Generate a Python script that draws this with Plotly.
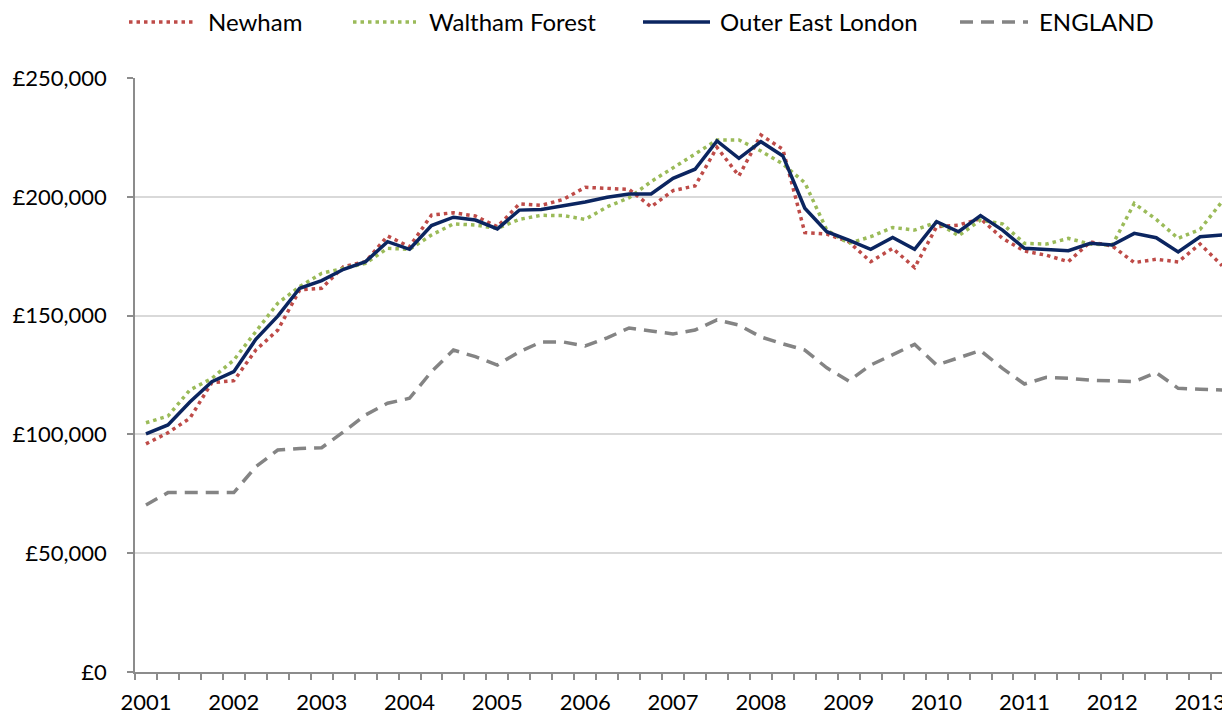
import plotly.graph_objects as go

# Quarterly average house prices, 2001 Q1 - 2013 Q2
years = [str(y) for y in range(2001, 2014)]
quarters = list(range(50))

newham = [96000, 100700, 106800, 121800, 122600, 135500, 143900, 160800, 161500, 170600,
          172700, 183500, 179000, 192300, 193300, 191900, 187400, 197000, 196400, 198900,
          204000, 203400, 203100, 195800, 202600, 204600, 220800, 208800, 226000, 220000,
          184900, 184300, 181100, 172700, 178300, 170200, 187400, 188100, 190800, 182500,
          177200, 175400, 172700, 181000, 179300, 172300, 173700, 172600, 180100, 171000]

waltham_forest = [104900, 107700, 118700, 123600, 131300, 143200, 155200, 162200, 167800, 169900,
                  172000, 178300, 177900, 183900, 188600, 188100, 186700, 190500, 192200, 192100,
                  190500, 195800, 199600, 206400, 212000, 218000, 223900, 223900, 219300, 213800,
                  205900, 186000, 180400, 183200, 187100, 186000, 189300, 183600, 190200, 188600,
                  180400, 180100, 182500, 180100, 179700, 197200, 190500, 182500, 186300, 198000]

outer_east = [100200, 104000, 113600, 122200, 126400, 140000, 149800, 161500, 164700, 169500,
              172700, 181100, 177900, 187900, 191400, 190200, 186500, 194400, 194700, 196100,
              197800, 199800, 201200, 201200, 207800, 211600, 223500, 216200, 223200, 217200,
              195200, 185300, 181800, 177900, 182900, 177900, 189500, 185300, 192100, 186000,
              178300, 177800, 177300, 180400, 179700, 184600, 182800, 176800, 183200, 183900]

england = [70300, 75500, 75500, 75500, 75500, 86400, 93400, 94100, 94400, 101100,
           108200, 113100, 115200, 126400, 135500, 132700, 129200, 134800, 138900, 138900,
           137200, 140600, 144800, 143500, 142300, 143900, 148200, 146000, 141000, 138100,
           135500, 128000, 122500, 129200, 133600, 137900, 129200, 132400, 135300, 127800,
           121200, 124000, 123600, 122800, 122500, 122200, 126000, 119400, 119000, 118700]

series = [
    ("Newham", newham, "#BE4B48", 3.5, "3.5px,4px"),
    ("Waltham Forest", waltham_forest, "#9BBB59", 3.5, "3.5px,4px"),
    ("Outer East London", outer_east, "#0B2560", 3.5, "solid"),
    ("ENGLAND", england, "#848484", 3.5, "13px,8px"),
]

fig = go.Figure()
for name, vals, color, width, dash in series:
    fig.add_trace(go.Scatter(
        x=quarters, y=vals, name=name, mode="lines",
        line=dict(color=color, width=width, dash=dash),
        showlegend=False))

# page geometry (pixels); the page body has an 8px margin
OFF = 8
W, H = 1230 - OFF, 717 - OFF
L, R, T, B = 135 - OFF, 0, 78 - OFF, 45
pw, ph = W - L - R, H - T - B

def px(x):
    return (x - OFF - L) / pw

def py(y):
    return (H - B - (y - OFF)) / ph

# legend drawn along the top
legend_pos = [(129, 196, 206), (353, 416, 427), (643, 710, 718), (960, 1028, 1037)]
for (name, vals, color, width, dash), (x0, x1, xt) in zip(series, legend_pos):
    fig.add_shape(type="line", xref="paper", yref="paper",
                  x0=px(x0), x1=px(x1), y0=py(22), y1=py(22),
                  line=dict(color=color, width=width, dash=dash))
    fig.add_annotation(text=name, xref="paper", yref="paper", x=px(xt), y=py(22),
                       xanchor="left", yanchor="middle", showarrow=False,
                       font=dict(size=24, color="black"))

fig.update_layout(
    width=W, height=H,
    margin=dict(l=L, r=R, t=T, b=B),
    paper_bgcolor="white", plot_bgcolor="white",
    font=dict(family="Lato, Open Sans, sans-serif", size=22, color="black"),
    showlegend=False,
)

fig.update_xaxes(
    range=[-0.5, 49.36],
    tickmode="array", tickvals=quarters[::4], ticktext=years,
    ticks="", showgrid=False, zeroline=False,
    showline=True, linecolor="#8C8C8C", linewidth=1.5,
    ticklabelstandoff=10,
    minor=dict(ticks="outside", tick0=-0.5, dtick=1, ticklen=6,
               tickcolor="#8C8C8C", tickwidth=1.5, showgrid=False),
)

fig.update_yaxes(
    range=[0, 250000], dtick=50000,
    tickprefix="£", tickformat=",d",
    ticks="outside", ticklen=6, tickcolor="#8C8C8C", tickwidth=1.5,
    showgrid=True, gridcolor="#D9D9D9", gridwidth=1.5,
    zeroline=False, showline=True, linecolor="#8C8C8C", linewidth=1.5,
    ticklabelstandoff=16,
)

fig.write_html("out.html")
